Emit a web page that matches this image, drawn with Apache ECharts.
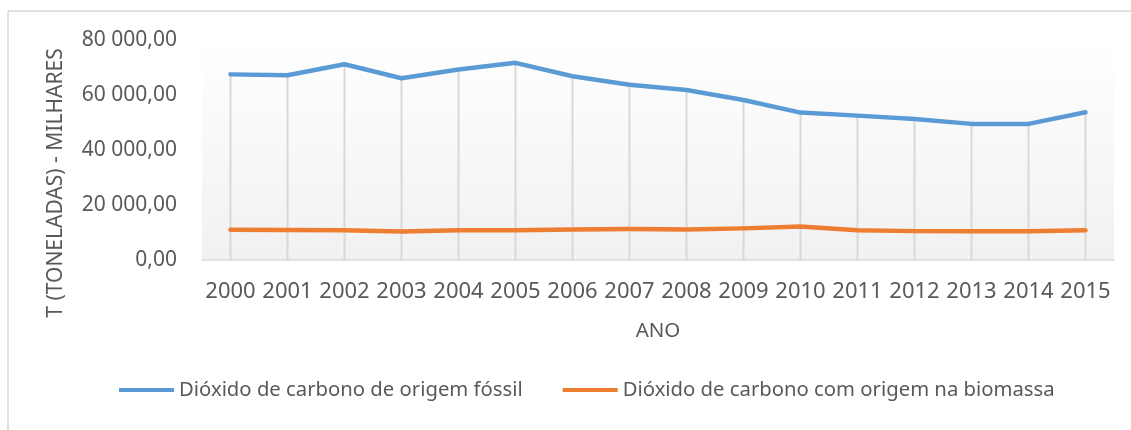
<!DOCTYPE html>
<html>
<head>
<meta charset="utf-8">
<script src="https://cdn.jsdelivr.net/npm/echarts@6/dist/echarts.min.js"></script>
<style>
    html, body {margin: 0; padding: 0; background: #fff;}
    #main {width: 1131px; height: 430px;}
</style>
</head>
<body>
<div id="main"></div>
<script>
// dados
var anos = ['2000', '2001', '2002', '2003', '2004', '2005', '2006', '2007',
    '2008', '2009', '2010', '2011', '2012', '2013', '2014', '2015'];
var fossil = [67500, 67200, 71200, 66100, 69300, 71700, 66800, 63700,
    61800, 58200, 53600, 52500, 51300, 49500, 49500, 53700];
var biomassa = [11000, 10900, 10800, 10400, 10800, 10800, 11100, 11300,
    11100, 11500, 12200, 10800, 10500, 10500, 10500, 10800];
var nomeFossil = 'Dióxido de carbono de origem fóssil';
var nomeBiomassa = 'Dióxido de carbono com origem na biomassa';

var fonte = '"Noto Sans", "Open Sans", sans-serif';
var cinza = '#595959';

var myChart = echarts.init(document.getElementById('main'));

// formata 80000 -> "80 000,00"
function formatar(v) {
    var s = Math.round(v).toString();
    s = s.replace(/\B(?=(\d{3})+(?!\d))/g, ' ');
    return s + ',00';
}

var option = {
    animation: false,
    backgroundColor: '#ffffff',
    textStyle: {fontFamily: fonte},
    grid: {
        left: 202,
        right: 17,
        top: 40,
        bottom: 170,
        show: true,
        borderWidth: 0,
        backgroundColor: {
            type: 'linear', x: 0, y: 0, x2: 0, y2: 1,
            colorStops: [
                {offset: 0, color: '#ffffff'},
                {offset: 0.13, color: '#fdfdfd'},
                {offset: 1, color: '#f1f1f1'}
            ]
        }
    },
    legend: {
        data: [nomeFossil, nomeBiomassa],
        left: 114,
        top: 375,
        icon: 'rect',
        itemWidth: 55,
        itemHeight: 4,
        itemGap: 40,
        textStyle: {fontFamily: fonte, fontSize: 20.3, color: cinza}
    },
    graphic: [
        {
            type: 'line',
            shape: {x1: 8, y1: 11, x2: 1131, y2: 11},
            style: {stroke: '#d9d9d9', lineWidth: 1.5}
        },
        {
            type: 'line',
            shape: {x1: 8, y1: 11, x2: 8, y2: 430},
            style: {stroke: '#d9d9d9', lineWidth: 1.5}
        },
        {
            type: 'text',
            x: 56,
            y: 183,
            rotation: Math.PI / 2,
            style: {
                text: 'T (TONELADAS) - MILHARES',
                fontFamily: fonte,
                fontSize: 21,
                fill: cinza,
                align: 'center',
                verticalAlign: 'middle'
            }
        }
    ],
    xAxis: {
        type: 'category',
        data: anos,
        boundaryGap: true,
        name: 'ANO',
        nameLocation: 'middle',
        nameGap: 61,
        nameTextStyle: {fontFamily: fonte, fontSize: 20.5, color: cinza},
        axisLine: {lineStyle: {color: '#d9d9d9', width: 1.5}},
        axisTick: {show: false},
        axisLabel: {interval: 0, fontFamily: fonte, fontSize: 22, color: cinza, margin: 21}
    },
    yAxis: {
        type: 'value',
        min: 0,
        max: 80000,
        interval: 20000,
        axisLine: {show: false},
        axisTick: {show: false},
        splitLine: {show: false},
        axisLabel: {
            fontFamily: fonte, fontSize: 21, color: cinza, margin: 25,
            formatter: formatar
        }
    },
    series: [
        {
            // linhas de queda
            name: 'queda',
            type: 'bar',
            data: fossil,
            barWidth: 2,
            silent: true,
            itemStyle: {color: '#d9d9d9'},
            z: 1
        },
        {
            name: nomeFossil,
            type: 'line',
            data: fossil,
            symbol: 'none',
            lineStyle: {color: '#5b9bd5', width: 4.5, cap: 'round', join: 'round'},
            itemStyle: {color: '#5b9bd5'},
            z: 3
        },
        {
            name: nomeBiomassa,
            type: 'line',
            data: biomassa,
            symbol: 'none',
            lineStyle: {color: '#ed7d31', width: 4.5, cap: 'round', join: 'round'},
            itemStyle: {color: '#ed7d31'},
            z: 3
        }
    ]
};

myChart.setOption(option);
</script>
</body>
</html>
